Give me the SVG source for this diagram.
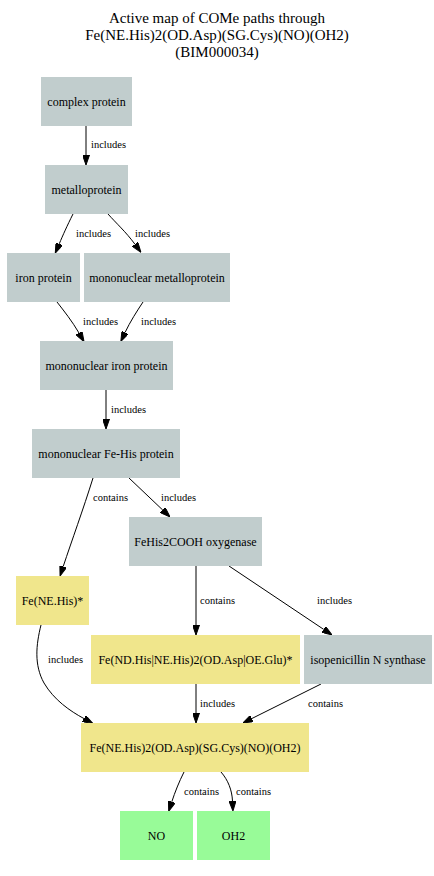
<svg xmlns="http://www.w3.org/2000/svg" width="434" height="876" viewBox="0 0 434 876">
<style>
text{font-family:"Liberation Serif","Times New Roman",serif;fill:#000}
.t{font-size:15px;text-anchor:middle}
.n{font-size:12px;text-anchor:middle}
.e{font-size:10.5px}
.g{fill:#c1cdcd}
.y{fill:#f0e68c}
.p{fill:#98fb98}
.c path{fill:none;stroke:#000;stroke-width:1;marker-end:url(#ah)}
</style>
<defs>
<marker id="ah" markerUnits="userSpaceOnUse" markerWidth="10" markerHeight="7" refX="0" refY="3.5" orient="auto">
<path d="M0,0 L10,3.5 L0,7 z" fill="#000" stroke="#000" stroke-width="1"/>
</marker>
</defs>
<rect width="434" height="876" fill="#fff"/>
<g id="title">
<text class="t" x="217" y="23">Active map of COMe paths through</text>
<text class="t" x="217" y="40">Fe(NE.His)2(OD.Asp)(SG.Cys)(NO)(OH2)</text>
<text class="t" x="217" y="57">(BIM000034)</text>
</g>
<g id="connectors" class="c">
<path d="M86,126 L86,155"/>
<path d="M73,214 C67,226 63,235 59.2,243.9"/>
<path d="M108,214 C116,223 126,232 135,244.3"/>
<path d="M57,302 C64,311 72,321 79,333"/>
<path d="M143,302 C137,311 130,322 125.1,332.4"/>
<path d="M106,390 L106,419"/>
<path d="M129,478 L162.8,510.1"/>
<path d="M93,478 C83,510 72,540 63.2,566.5"/>
<path d="M196,566 L196,625"/>
<path d="M229,566 L323.7,629.4"/>
<path d="M41,625 C36,645 34,665 44,683 C54,700 70,711 84,718.6"/>
<path d="M196,684 L196,713"/>
<path d="M321,684 L251.9,718.5"/>
<path d="M184,772 C179,782 175,792 171.8,801.8"/>
<path d="M221,772 C228,780 232,790 232.5,801"/>
<g id="edge-labels">
<text class="e" x="91" y="148">includes</text>
<text class="e" x="76" y="237">includes</text>
<text class="e" x="135" y="237">includes</text>
<text class="e" x="83" y="325">includes</text>
<text class="e" x="141" y="325">includes</text>
<text class="e" x="111" y="413">includes</text>
<text class="e" x="161" y="501">includes</text>
<text class="e" x="93" y="501">contains</text>
<text class="e" x="200" y="604">contains</text>
<text class="e" x="317" y="604">includes</text>
<text class="e" x="48" y="663">includes</text>
<text class="e" x="200" y="707">includes</text>
<text class="e" x="308" y="707">contains</text>
<text class="e" x="184" y="795">contains</text>
<text class="e" x="236" y="795">contains</text>
</g>
</g>
<g id="complex-protein"><rect class="g" x="41" y="77" width="91" height="49"/><text class="n" x="86.5" y="105.5">complex protein</text></g>
<g id="metalloprotein"><rect class="g" x="45" y="165" width="83" height="49"/><text class="n" x="86.5" y="193.5">metalloprotein</text></g>
<g id="iron-protein"><rect class="g" x="7" y="253" width="73" height="49"/><text class="n" x="43.5" y="281.5">iron protein</text></g>
<g id="mononuclear-metalloprotein"><rect class="g" x="84" y="253" width="146" height="49"/><text class="n" x="157" y="281.5">mononuclear metalloprotein</text></g>
<g id="mononuclear-iron-protein"><rect class="g" x="40" y="341" width="133" height="49"/><text class="n" x="106.5" y="369.5">mononuclear iron protein</text></g>
<g id="mononuclear-fe-his-protein"><rect class="g" x="32" y="429" width="148" height="49"/><text class="n" x="106" y="457.5">mononuclear Fe-His protein</text></g>
<g id="fehis2cooh-oxygenase"><rect class="g" x="129" y="517" width="133" height="49"/><text class="n" x="195.5" y="545.5">FeHis2COOH oxygenase</text></g>
<g id="fe-ne-his"><rect class="y" x="16" y="576" width="73" height="49"/><text class="n" x="52.5" y="604.5">Fe(NE.His)*</text></g>
<g id="fe-nd-his-ne-his"><rect class="y" x="91" y="635" width="209" height="49"/><text class="n" x="195.5" y="663.5">Fe(ND.His|NE.His)2(OD.Asp|OE.Glu)*</text></g>
<g id="isopenicillin-n-synthase"><rect class="g" x="304" y="635" width="128" height="49"/><text class="n" x="368" y="663.5">isopenicillin N synthase</text></g>
<g id="fe-site"><rect class="y" x="81" y="723" width="228" height="49"/><text class="n" x="195" y="751.5">Fe(NE.His)2(OD.Asp)(SG.Cys)(NO)(OH2)</text></g>
<g id="no"><rect class="p" x="120" y="811" width="73" height="49"/><text class="n" x="156.5" y="839.5">NO</text></g>
<g id="oh2"><rect class="p" x="197" y="811" width="73" height="49"/><text class="n" x="233.5" y="839.5">OH2</text></g>
</svg>
